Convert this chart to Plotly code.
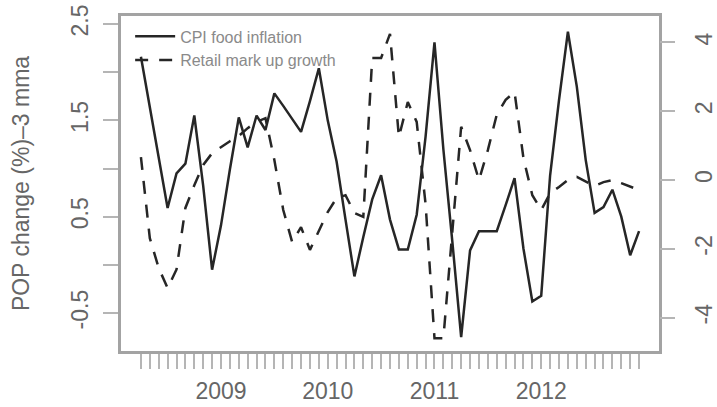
import plotly.graph_objects as go

# Monthly observations, Apr 2008 - Dec 2012
months = []
for yr in range(2008, 2013):
    for mo in range(1, 13):
        if (yr == 2008 and mo < 4):
            continue
        months.append(f"{yr}-{mo:02d}")

cpi_food = [2.16, 1.65, 1.1, 0.59, 0.95, 1.05, 1.55, 0.82, -0.05, 0.41,
            0.99, 1.53, 1.22, 1.55, 1.4, 1.78, 1.65, 1.52, 1.38, 1.7,
            2.04, 1.5, 1.07, 0.47, -0.12, 0.29, 0.68, 0.93, 0.47, 0.16,
            0.16, 0.52, 1.33, 2.31, 1.2, 0.25, -0.75, 0.15, 0.35, 0.35,
            0.35, 0.62, 0.9, 0.17, -0.38, -0.32, 0.93, 1.71, 2.42, 1.85,
            1.09, 0.54, 0.6, 0.78, 0.5, 0.1, 0.35]

markup_growth = [0.67, -1.69, -2.56, -3.14, -2.6, -0.81, -0.15, 0.44, 0.78, 0.96,
                 1.13, 1.28, 1.51, 1.69, 1.8, 0.58, -0.87, -1.8, -1.37, -2.03,
                 -1.5, -0.93, -0.52, -0.44, -0.96, -1.07, 3.55, 3.55, 4.25, 1.25,
                 2.27, 1.69, -0.7, -4.6, -4.6, -1.5, 1.55, 0.87, 0.0, 0.87,
                 1.9, 2.33, 2.56, 0.64, -0.44, -0.87, -0.38, -0.2, 0.0, 0.09,
                 -0.03, -0.17, -0.06, 0.0, -0.09, -0.2, -0.29]

year_labels = {"2009-01": "2009", "2010-01": "2010", "2011-01": "2011", "2012-01": "2012"}
x_ticktext = [year_labels.get(m, "") for m in months]

left_ticks = [-0.5, 0, 0.5, 1, 1.5, 2, 2.5]
left_labels = ["-0.5", "", "0.5", "", "1.5", "", "2.5"]
right_ticks = [-4, -2, 0, 2, 4]
right_labels = ["-4", "-2", "0", "2", "4"]

line_col = "#262626"
axis_col = "#a3a3a3"
tick_col = "#b5b5b5"
text_col = "#666666"

fig = go.Figure()
fig.add_trace(go.Scatter(x=months, y=cpi_food, name="CPI food inflation", mode="lines",
                         line=dict(color=line_col, width=2.5)))
fig.add_trace(go.Scatter(x=months, y=markup_growth, name="Retail mark up growth", mode="lines",
                         yaxis="y2", line=dict(color=line_col, width=2.5, dash="13px,11px")))

fig.update_layout(
    width=717, height=407,
    margin=dict(l=121, r=58, t=16, b=56, autoexpand=False),
    paper_bgcolor="white", plot_bgcolor="white",
    font=dict(family="Liberation Sans, Arial, sans-serif", size=23, color=text_col),
    showlegend=True,
    legend=dict(x=0.017, y=0.99, xanchor="left", yanchor="top",
                bgcolor="rgba(0,0,0,0)", borderwidth=0,
                font=dict(size=16, color="#8a8a8a"), itemwidth=40, tracegroupgap=0),
    xaxis=dict(type="category", range=[-2.24, 58.24], tickmode="array",
               tickvals=months, ticktext=x_ticktext, tickangle=0, automargin=False,
               ticks="outside", ticklen=15, tickwidth=2, tickcolor=tick_col,
               showline=True, mirror=True, linecolor=axis_col, linewidth=3,
               showgrid=False, zeroline=False, ticklabelstandoff=2),
    yaxis=dict(range=[-0.894, 2.583], tickmode="array", tickvals=left_ticks,
               ticktext=left_labels, tickangle=-90, automargin=False,
               ticks="outside", ticklen=15, tickwidth=2, tickcolor=tick_col,
               showline=True, mirror=True, linecolor=axis_col, linewidth=3,
               showgrid=False, zeroline=False, ticklabelstandoff=6,
               title=dict(text="POP change (%)–3 mma", standoff=31,
                          font=dict(size=23, color=text_col))),
    yaxis2=dict(overlaying="y", side="right", anchor="x", range=[-4.97, 4.77],
                tickmode="array", tickvals=right_ticks, ticktext=right_labels,
                tickangle=-90, ticks="outside", ticklen=15, tickwidth=2, tickcolor=tick_col,
                automargin=False, showline=False, showgrid=False, zeroline=False,
                ticklabelstandoff=9),
)

fig.write_html("out.html")
